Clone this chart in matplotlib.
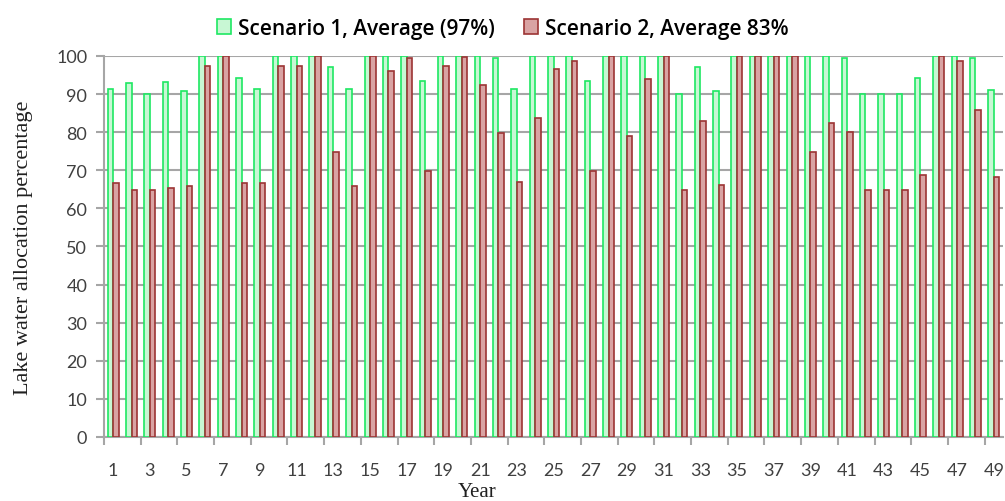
import numpy as np
import matplotlib.pyplot as plt

# Datos
years = np.arange(1, 50)
scenario1 = [91.3, 92.8, 90, 93.1, 90.7, 100, 100, 94.2, 91.3, 100,
             100, 100, 97, 91.3, 100, 100, 100, 93.4, 100, 100,
             100, 99.4, 91.3, 100, 100, 100, 93.4, 100, 100, 100,
             100, 90, 97.2, 90.7, 100, 100, 100, 100, 100, 100,
             99.4, 90, 90, 90, 94.2, 100, 100, 99.4, 91.2]
scenario2 = [66.7, 64.9, 64.9, 65.3, 65.8, 97.3, 100, 66.7, 66.7, 97.3,
             97.3, 100, 74.7, 65.8, 100, 96.1, 99.4, 69.8, 97.3, 99.7,
             92.5, 79.7, 66.8, 83.6, 96.6, 98.8, 69.8, 100, 79.1, 94,
             100, 64.9, 83, 66.1, 100, 100, 100, 100, 74.9, 82.4,
             80, 64.9, 64.9, 64.9, 68.8, 100, 98.8, 85.9, 68.2]
labels = ['Scenario 1, Average (97%)', 'Scenario 2, Average 83%']
yticks = np.arange(0, 101, 10)

fig = plt.figure(figsize=(10.05, 5.02), dpi=100)
ax = fig.add_axes([0.1035, 0.1275, 0.8945, 0.759])

w = 0.3
ax.bar(years - w / 2, scenario1, width=w, color='#c8f7d4', edgecolor='#1ee862',
       linewidth=1.2, label=labels[0], zorder=3)
ax.bar(years + w / 2, scenario2, width=w, color='#d9a3a3', edgecolor='#9c3434',
       linewidth=1.2, label=labels[1], zorder=3)

ax.set_xlim(0.5, 49.5)
ax.set_ylim(0, 100)
ax.set_yticks(yticks)
ax.yaxis.grid(True, color='#a6a6a6', linewidth=1.5, zorder=0)

# marcas entre categorías cada dos años, etiquetas en años impares
ax.set_xticks(np.arange(0.5, 50, 2))
ax.set_xticklabels([])
ax.set_xticks(years[::2], minor=True)
ax.set_xticklabels([str(y) for y in years[::2]], minor=True)
ax.tick_params(axis='x', which='major', length=6, width=1.5, color='#a6a6a6', direction='out')
ax.tick_params(axis='x', which='minor', length=0, pad=18)
ax.tick_params(axis='y', length=6, width=1.5, color='#a6a6a6', pad=6)
for t in ax.get_xticklabels(minor=True) + ax.get_yticklabels():
    t.set_fontfamily('Lato')
    t.set_fontsize(13)
    t.set_color('#404040')

for s in ['top', 'right']:
    ax.spines[s].set_visible(False)
for s in ['left', 'bottom']:
    ax.spines[s].set_color('#a6a6a6')
    ax.spines[s].set_linewidth(1.5)

ax.set_ylabel('Lake water allocation percentage', family='Liberation Serif',
              fontsize=16, color='#202020', labelpad=17)
fig.text(477 / 1005, 1 - 483 / 502, 'Year', family='Liberation Serif',
         fontsize=15, color='#202020', ha='center', va='top')

fig.legend(loc='upper center', bbox_to_anchor=(0.5, 1.0), ncol=2, frameon=False,
           handlelength=0.7, handleheight=0.7, handletextpad=0.3,
           columnspacing=1.4, prop={'family': 'Open Sans', 'weight': 'semibold', 'size': 15})

plt.savefig('out.png', dpi=100)
